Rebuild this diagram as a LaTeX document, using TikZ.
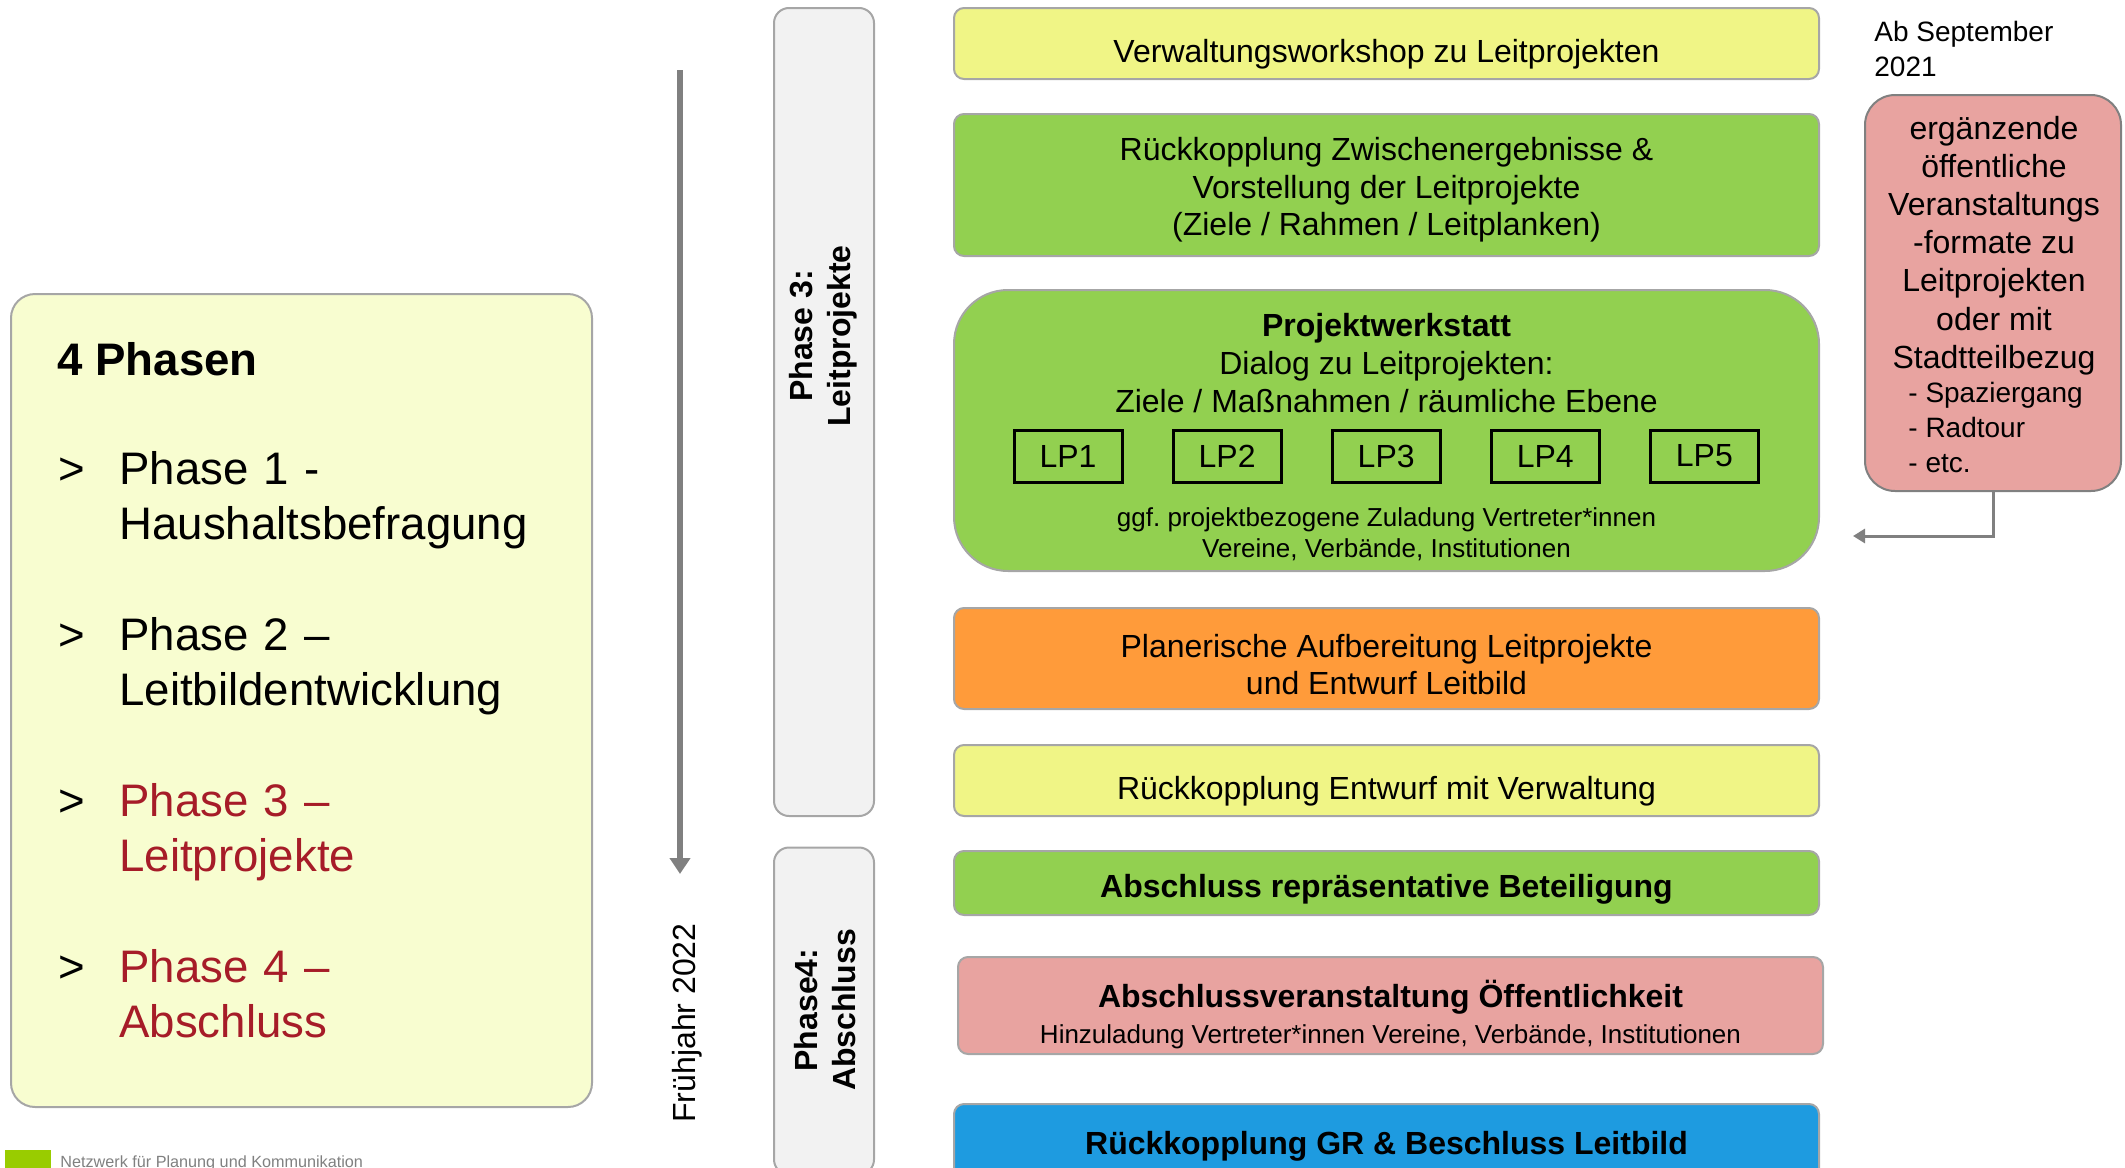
\documentclass[tikz,border=0pt]{standalone}
\usepackage{fontspec}
\setmainfont{Liberation Sans}
\usetikzlibrary{arrows.meta}
\frenchspacing

\definecolor{wsyellow}{HTML}{F0F586}
\definecolor{leitgreen}{HTML}{92D050}
\definecolor{planorange}{HTML}{FF9B3A}
\definecolor{eventpink}{HTML}{E8A3A0}
\definecolor{grblue}{HTML}{1E9BE0}
\definecolor{phasefill}{HTML}{F8FDD0}
\definecolor{phasered}{HTML}{A61C28}
\definecolor{framegrey}{HTML}{A6A6A6}
\definecolor{greyfill}{HTML}{F2F2F2}
\definecolor{arrowgrey}{HTML}{808080}
\definecolor{logogreen}{HTML}{99CC00}

\newcommand\boxfont{\fontsize{16}{18.8}\selectfont}
\newcommand\smallboxfont{\fontsize{13}{15.5}\selectfont}
\newcommand\listfont{\fontsize{22.8}{27.6}\selectfont}

\tikzset{
  stepbox/.style={draw=framegrey, line width=1pt, rounded corners=5pt,
    minimum width=432.5pt, inner sep=0pt},
  steptext/.style={inner sep=0pt, align=center, font=\boxfont},
  phasebox/.style={draw=framegrey, fill=greyfill, line width=1pt,
    rounded corners=7.5pt, minimum width=50pt, inner sep=0pt},
  lpbox/.style={draw=black, line width=1.5pt, minimum width=54pt,
    minimum height=26pt, inner sep=0pt, font=\boxfont},
  itemtext/.style={inner sep=0pt, text width=240pt, align=left, font=\listfont},
  greyarrow/.style={draw=arrowgrey, -{Triangle[width=10pt,length=8pt]}},
}

\begin{document}
\begin{tikzpicture}[x=0.5pt, y=-0.5pt]
		%%%%% START %%%%%
		\useasboundingbox (0,0) rectangle (2125,1167);

		% overview of the phases
		\node[draw=framegrey, fill=phasefill, line width=1pt, rounded corners=12pt,
		  minimum width=290.5pt, minimum height=406.5pt] (overview) at (301.5,700.5) {};
		\node[anchor=base west, inner sep=0pt, font=\listfont\bfseries] (ovtitle) at (57,375) {4 Phasen};
		\foreach \y/\txt/\col [count=\i] in {484/{Phase 1 -\\Haushaltsbefragung}/black,
		    650/{Phase 2 --\\Leitbildentwicklung}/black,
		    816/{Phase 3 --\\Leitprojekte}/phasered,
		    982/{Phase 4 --\\Abschluss}/phasered}{
		  \node[anchor=base west, inner sep=0pt, font=\listfont] (bul\i) at (58,\y) {>};
		  \node[itemtext, anchor=base west, text=\col] (item\i) at (119,\y) {\txt};
		}

		% logo line
		\node[fill=logogreen, minimum width=23pt, minimum height=12pt, inner sep=0pt] (logo) at (28,1162) {};
		\node[anchor=base west, inner sep=0pt, text=arrowgrey, font=\fontsize{8.1}{10}\selectfont]
		  (logotext) at (60,1167) {Netzwerk für Planung und Kommunikation};

		% time axis
		\coordinate (timetop) at (680,70);
		\coordinate (timeend) at (680,874);
		\draw[greyarrow, line width=3pt] (timetop) -- (timeend);
		\node[rotate=90, font=\boxfont] (spring) at (687,1023) {Frühjahr 2022};

		% phase labels
		\node[phasebox, minimum height=404pt] (phase3) at (824,412) {};
		\node[rotate=90, align=center, font=\boxfont\bfseries] (phase3txt) at (823,336) {Phase 3:\\Leitprojekte};
		\node[phasebox, minimum height=163.5pt] (phase4) at (824,1011) {};
		\node[rotate=90, align=center, font=\boxfont\bfseries] (phase4txt) at (825,1010) {Phase4:\\Abschluss};

		% steps
		\node[stepbox, fill=wsyellow, minimum height=35.5pt] (workshop) at (1386.5,43.5) {};
		\node[steptext] (workshoptxt) at (1386.5,54) {Verwaltungsworkshop zu Leitprojekten};

		\node[stepbox, fill=leitgreen, minimum height=71pt] (zwischen) at (1386.5,185) {};
		\node[steptext] (zwischentxt) at (1386.5,190)
		  {Rückkopplung Zwischenergebnisse \&\\Vorstellung der Leitprojekte\\(Ziele / Rahmen / Leitplanken)};

		\node[stepbox, fill=leitgreen, rounded corners=27pt, minimum height=140.5pt] (werkstatt) at (1386.5,430.5) {};
		\node[steptext] (werktxt) at (1386.5,363)
		  {\textbf{Projektwerkstatt}\\Dialog zu Leitprojekten:\\Ziele / Maßnahmen / räumliche Ebene};
		\foreach \i in {1,...,5}
		  \node[lpbox] (lp\i) at ({1068+159.1*(\i-1)},456) {LP\i};
		\node[steptext, font=\smallboxfont] (zuladung) at (1386.5,534)
		  {ggf. projektbezogene Zuladung Vertreter*innen\\Vereine, Verbände, Institutionen};

		\node[stepbox, fill=planorange, minimum height=50.5pt] (planung) at (1386.5,658.5) {};
		\node[steptext] (planungtxt) at (1386.5,664.5)
		  {Planerische Aufbereitung Leitprojekte\\und Entwurf Leitbild};

		\node[stepbox, fill=wsyellow, minimum height=35.5pt] (entwurf) at (1386.5,780.5) {};
		\node[steptext] (entwurftxt) at (1386.5,791) {Rückkopplung Entwurf mit Verwaltung};

		\node[stepbox, fill=leitgreen, minimum height=32pt] (repraes) at (1386.5,883) {};
		\node[steptext, font=\boxfont\bfseries] (repraestxt) at (1386.5,889.5) {Abschluss repräsentative Beteiligung};

		\node[stepbox, fill=eventpink, minimum height=48.5pt] (abschluss) at (1390.5,1005.5) {};
		\node[steptext, font={}] (abschlusstxt) at (1390.5,1014.5)
		  {{\boxfont\bfseries Abschlussveranstaltung Öffentlichkeit}\\[3.8pt]
		   {\smallboxfont Hinzuladung Vertreter*innen Vereine, Verbände, Institutionen}};

		\node[stepbox, fill=grblue, minimum height=38pt] (beschluss) at (1386.5,1142) {};
		\node[steptext, font=\boxfont\bfseries] (beschlusstxt) at (1386.5,1146) {Rückkopplung GR \& Beschluss Leitbild};

		% side events
		\node[anchor=base west, align=left, inner sep=0pt, font=\fontsize{14}{17.5}\selectfont]
		  (ab) at (1874,76) {Ab September\\2021};
		\node[draw=arrowgrey, fill=eventpink, line width=1pt, rounded corners=15pt,
		  minimum width=128pt, minimum height=198pt, inner sep=0pt] (sidebox) at (1993,293) {};
		\node[steptext, font=\fontsize{16}{19.1}\selectfont] (sidetxt) at (1994,245.5)
		  {ergänzende\\öffentliche\\Veranstaltungs\\-formate zu\\Leitprojekten\\oder mit\\Stadtteilbezug};
		\node[anchor=west, align=left, font=\fontsize{14}{17.3}\selectfont, inner sep=0pt] (sidelist) at (1908,427.5)
		  {- Spaziergang\\- Radtour\\- etc.};
		\coordinate (sideend) at (1853,536);
		\draw[greyarrow, line width=1.5pt, -{Triangle[width=7pt,length=6pt]}] (sidebox.south) |- (sideend);

		%%%%% END %%%%%
\end{tikzpicture}
\end{document}
